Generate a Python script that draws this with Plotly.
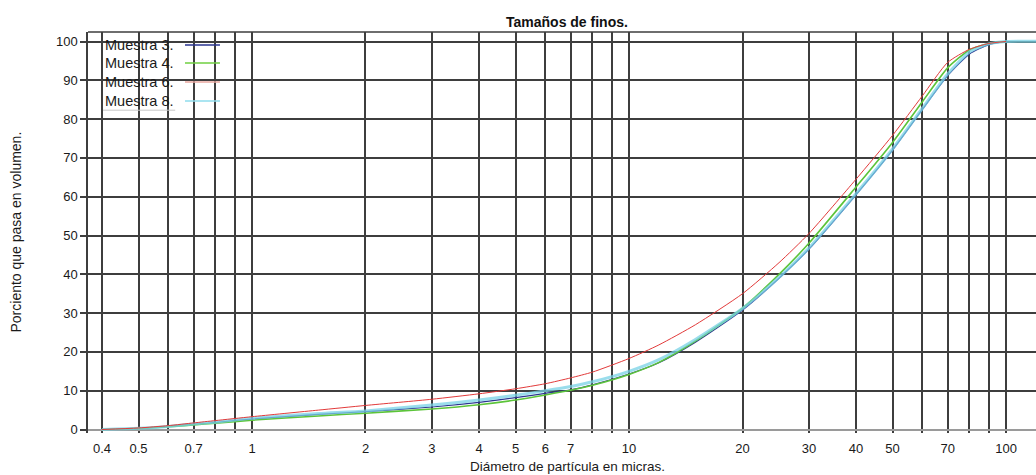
import plotly.graph_objects as go

# Particle diameters (microns) at which the cumulative volume was read
sizes = [0.4, 0.5, 0.6, 0.7, 0.8, 1, 1.5, 2, 3, 4, 5, 6, 7, 8, 10, 12, 15,
         20, 25, 30, 40, 50, 60, 70, 80, 90, 100]
sizes_m8 = sizes + [150]

# Cumulative percent passing, by volume
muestra_3 = [0, 0.3, 0.8, 1.3, 1.8, 2.7, 3.9, 4.6, 5.8, 7.0, 8.2, 9.3, 10.2, 11.5,
             14.3, 17.2, 22.5, 30.8, 39.0, 46.5, 60.5, 72.0, 82.5, 91.2, 96.8, 99.2, 100]
muestra_4 = [0, 0.3, 0.7, 1.2, 1.6, 2.4, 3.5, 4.2, 5.3, 6.4, 7.6, 8.9, 10.1, 11.4,
             14.2, 17.3, 22.8, 31.3, 40.0, 48.0, 62.5, 74.0, 84.5, 93.2, 97.8, 99.5, 100]
muestra_6 = [0, 0.4, 1.0, 1.7, 2.3, 3.3, 5.0, 6.2, 7.8, 9.2, 10.5, 11.8, 13.3, 14.8,
             18.3, 21.8, 27.0, 35.0, 43.0, 50.5, 64.5, 75.8, 86.0, 94.6, 98.0, 99.5, 100]
muestra_8 = [0, 0.3, 0.8, 1.4, 1.9, 2.9, 4.1, 4.8, 6.3, 7.6, 8.8, 10.0, 11.1, 12.3,
             15.0, 18.0, 23.2, 31.2, 39.2, 46.8, 60.8, 72.3, 82.8, 91.6, 97.3, 99.4, 100, 100]

series_names = ["Muestra 3.", "Muestra 4.", "Muestra 6.", "Muestra 8."]

x_grid = [0.4, 0.5, 0.6, 0.7, 0.8, 0.9, 1, 2, 3, 4, 5, 6, 7, 8, 9,
          10, 20, 30, 40, 50, 60, 70, 80, 90, 100]
x_labels = ["0.4", "0.5", "", "0.7", "", "", "1", "2", "3", "4", "5", "6", "7", "", "",
            "10", "20", "30", "40", "50", "", "70", "", "", "100"]
y_ticks = list(range(0, 101, 10))

FONT = "Liberation Sans, Arial, sans-serif"
GRID = "#3e3e3e"
GW = 1.5

styles = [
    dict(color="#2a3590", width=1.2),
    dict(color="#5cc43a", width=1.6),
    dict(color="#e23a3a", width=1.0),
    dict(color="rgba(120,210,230,0.75)", width=3.0),
]
legend_colors = ["#2a3590", "#6fcf40", "#e8a8a0", "#8fdcec"]

fig = go.Figure()
for name, xs, ys, st in [
    (series_names[0], sizes, muestra_3, styles[0]),
    (series_names[1], sizes, muestra_4, styles[1]),
    (series_names[3], sizes_m8, muestra_8, styles[3]),
    (series_names[2], sizes, muestra_6, styles[2]),
]:
    fig.add_trace(go.Scatter(x=xs, y=ys, mode="lines", name=name,
                             line=dict(shape="spline", smoothing=0.6, **st),
                             showlegend=False))

fig.update_layout(
    width=1036, height=475,
    margin=dict(l=88, r=0, t=32, b=42),
    paper_bgcolor="white", plot_bgcolor="white",
    font=dict(family=FONT, size=13, color="#1a1a1a"),
    showlegend=False,
)
fig.update_xaxes(
    type="log", range=[-0.435, 2.0795],
    tickmode="array", tickvals=x_grid, ticktext=x_labels,
    showgrid=True, gridcolor=GRID, gridwidth=GW,
    showline=False, zeroline=False, ticks="", ticklabelstandoff=6,
    tickfont=dict(size=13),
)
fig.update_yaxes(
    range=[-0.9, 102.45],
    tickmode="array", tickvals=y_ticks,
    showgrid=True, gridcolor=GRID, gridwidth=GW,
    zeroline=True, zerolinecolor="#9a9a9a", zerolinewidth=GW,
    showline=True, linecolor=GRID, linewidth=GW,
    ticks="outside", ticklen=6, tickcolor=GRID, tickwidth=GW,
    tickfont=dict(size=13),
)

# top border of the plotting area
fig.add_shape(type="line", xref="paper", yref="paper", x0=0, x1=1, y0=1, y1=1,
              line=dict(color=GRID, width=GW))

# titles
fig.add_annotation(text="<b>Tamaños de finos.</b>", xref="paper", yref="paper",
                   x=0.5053, y=1, yshift=10, showarrow=False,
                   font=dict(size=14, color="#111"), xanchor="center", yanchor="middle")
fig.add_annotation(text="Diámetro de partícula en micras.", xref="paper", yref="paper",
                   x=0.5053, y=0, yshift=-33, showarrow=False,
                   font=dict(size=13.5), xanchor="center", yanchor="middle")
fig.add_annotation(text="Porciento que pasa en volumen.", xref="paper", yref="paper",
                   x=0, xshift=-73, y=0.5, textangle=-90, showarrow=False,
                   font=dict(size=14), xanchor="center", yanchor="middle")

# legend: label on the left, line sample on the right
legend_rows = [0.9676, 0.9227, 0.8753, 0.828]
for name, col, yy in zip(series_names, legend_colors, legend_rows):
    fig.add_annotation(text=name, xref="paper", yref="paper", x=0.0158, y=yy,
                       showarrow=False, xanchor="left", yanchor="middle",
                       font=dict(size=14.5))
    fig.add_shape(type="line", xref="paper", yref="paper",
                  x0=0.1023, x1=0.1392, y0=yy, y1=yy,
                  line=dict(color=col, width=1.5))
fig.add_shape(type="line", xref="paper", yref="paper", x0=0.0158, x1=0.092,
              y0=0.805, y1=0.805, line=dict(color="#c8c8c8", width=1))

fig.write_html("out.html")
